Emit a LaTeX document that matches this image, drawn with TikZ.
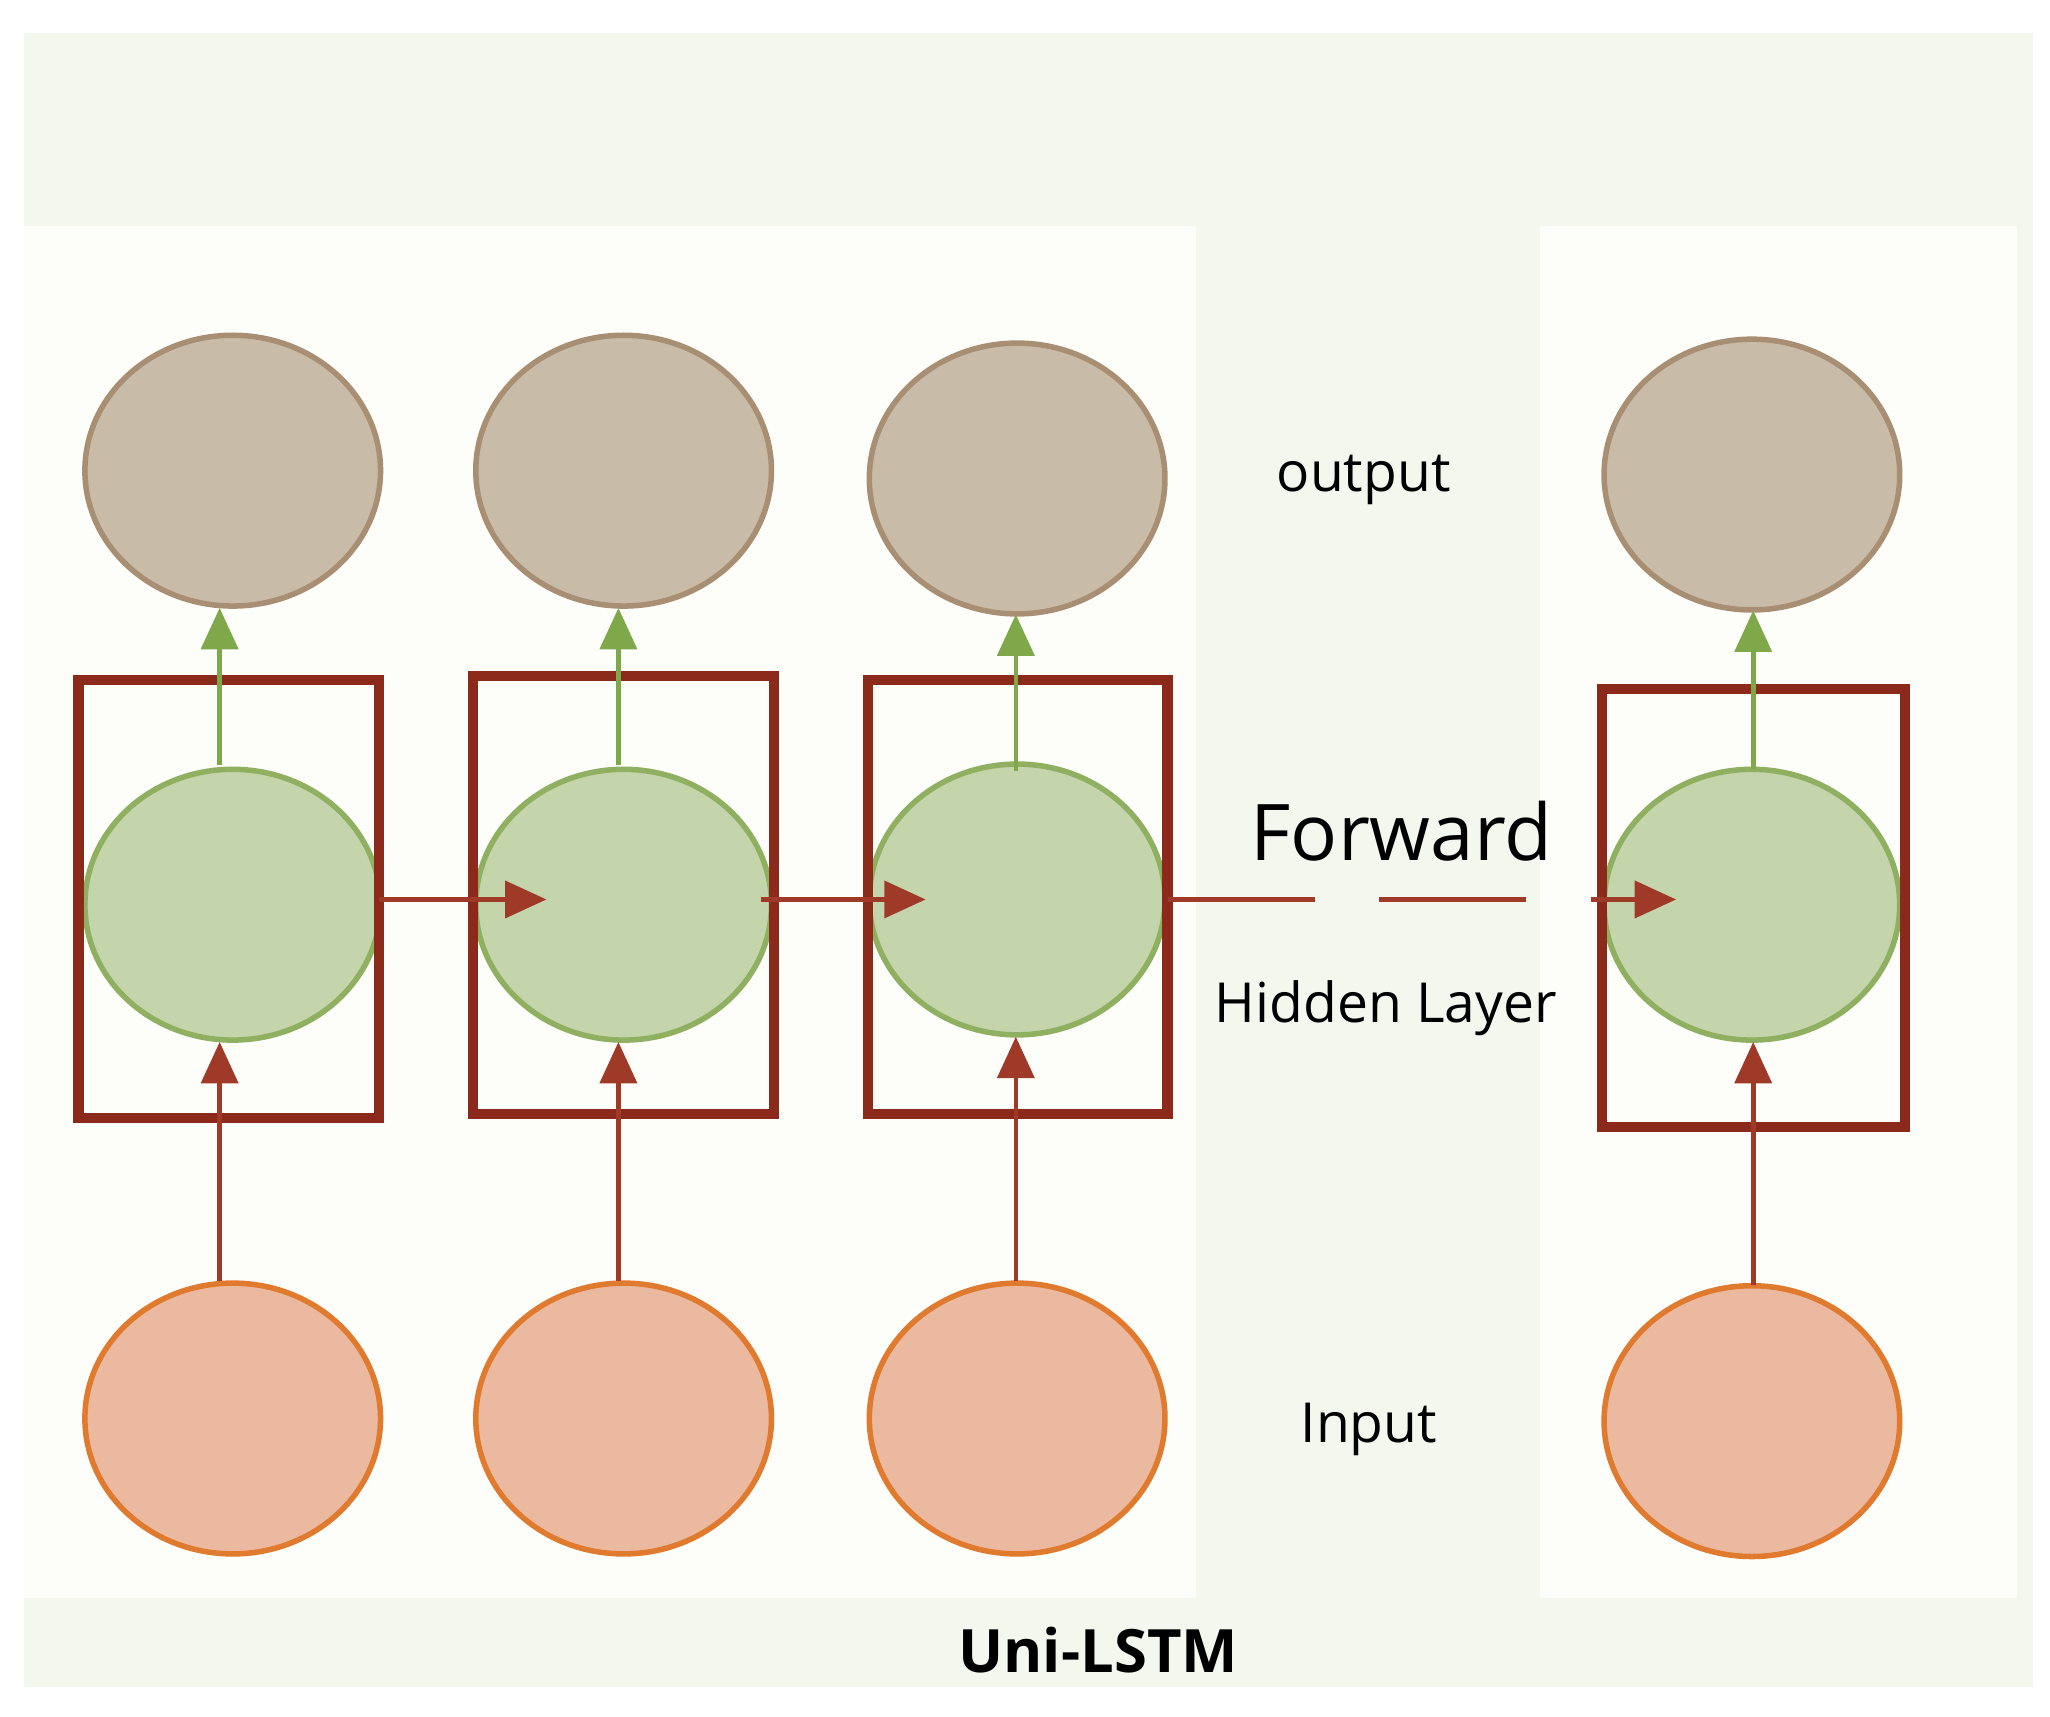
\documentclass[tikz,border=0pt]{standalone}
\usepackage{fontspec}
\setmainfont{Open Sans}
\usetikzlibrary{arrows.meta,shapes.geometric}
\definecolor{bgout}{HTML}{F3F7EE}
\definecolor{bgin}{HTML}{FDFDFA}
\definecolor{outf}{HTML}{C8BBA8}\definecolor{outd}{HTML}{A88F73}
\definecolor{hidf}{HTML}{C4D4AB}\definecolor{hidd}{HTML}{8FB060}
\definecolor{inf}{HTML}{EBB9A0}\definecolor{ind}{HTML}{E07A2E}
\definecolor{boxc}{HTML}{8B2A1A}\definecolor{grn}{HTML}{7FA84A}
\definecolor{redc}{HTML}{A03A28}
\begin{document}
\begin{tikzpicture}[x=0.01cm,y=-0.01cm,
 cell/.style={ellipse,minimum width=2.26cm,minimum height=2.07cm,line width=1.2pt,inner sep=0pt},
 outc/.style={cell,fill=outf,draw=outd},
 hidc/.style={cell,fill=hidf,draw=hidd},
 inc/.style={cell,fill=inf,draw=ind},
 box/.style={draw=boxc,line width=2.2pt},
 garr/.style={draw=grn,line width=1pt,-{Triangle[length=9pt,width=8pt]}},
 rarr/.style={draw=redc,line width=1pt,-{Triangle[length=9pt,width=8pt]}},
 lbl/.style={font=\fontsize{12}{14}\selectfont}]
\useasboundingbox (0,0) rectangle (1568,1313);
\fill[white] (0,0) rectangle (1568,1313);
\fill[bgout] (18,25) rectangle (1555,1290);
\fill[bgin] (18,173) rectangle (915,1222);
\fill[bgin] (1178,173) rectangle (1543,1222);
\foreach \i/\x/\yo/\yh/\yi in {1/178/360/692/1085,2/477/360/692/1085,3/778/366/688/1085,4/1340/363/692/1087}{
  \node[outc] (o\i) at (\x,\yo) {};
  \node[hidc] (h\i) at (\x,\yh) {};
  \node[inc] (n\i) at (\x,\yi) {};
}
\draw[box] (60,520) rectangle (290,855);
\draw[box] (362,517) rectangle (592,852);
\draw[box] (664,520) rectangle (893,852);
\draw[box] (1225,527) rectangle (1457,862);
\foreach \i/\x/\yo/\yh/\yhb/\yi in {1/168/465/585/797/980,2/473/465/585/797/980,3/777/470/590/793/980,4/1341/467/588/797/983}{
  \draw[garr] (\x,\yh) -- (\x,\yo);
  \draw[rarr] (\x,\yi) -- (\x,\yhb);
}
\coordinate (a1) at (418,688); \coordinate (a2) at (708,688); \coordinate (a3) at (1282,688);
\draw[rarr] (290,688) -- (a1);
\draw[rarr] (582,688) -- (a2);
\draw[rarr,dash pattern=on 32pt off 14pt] (h3.east) -- (a3);
\node[lbl] (t1) at (1043,367) {output};
\node[font=\fontsize{17}{20}\selectfont] (t2) at (1072,636) {Forward};
\node[lbl] (t3) at (1060,771) {Hidden Layer};
\node[lbl] (t4) at (1047,1093) {Input};
\node[font=\bfseries\fontsize{13}{15}\selectfont] (t5) at (840,1262) {Uni-LSTM};
\end{tikzpicture}
\end{document}
